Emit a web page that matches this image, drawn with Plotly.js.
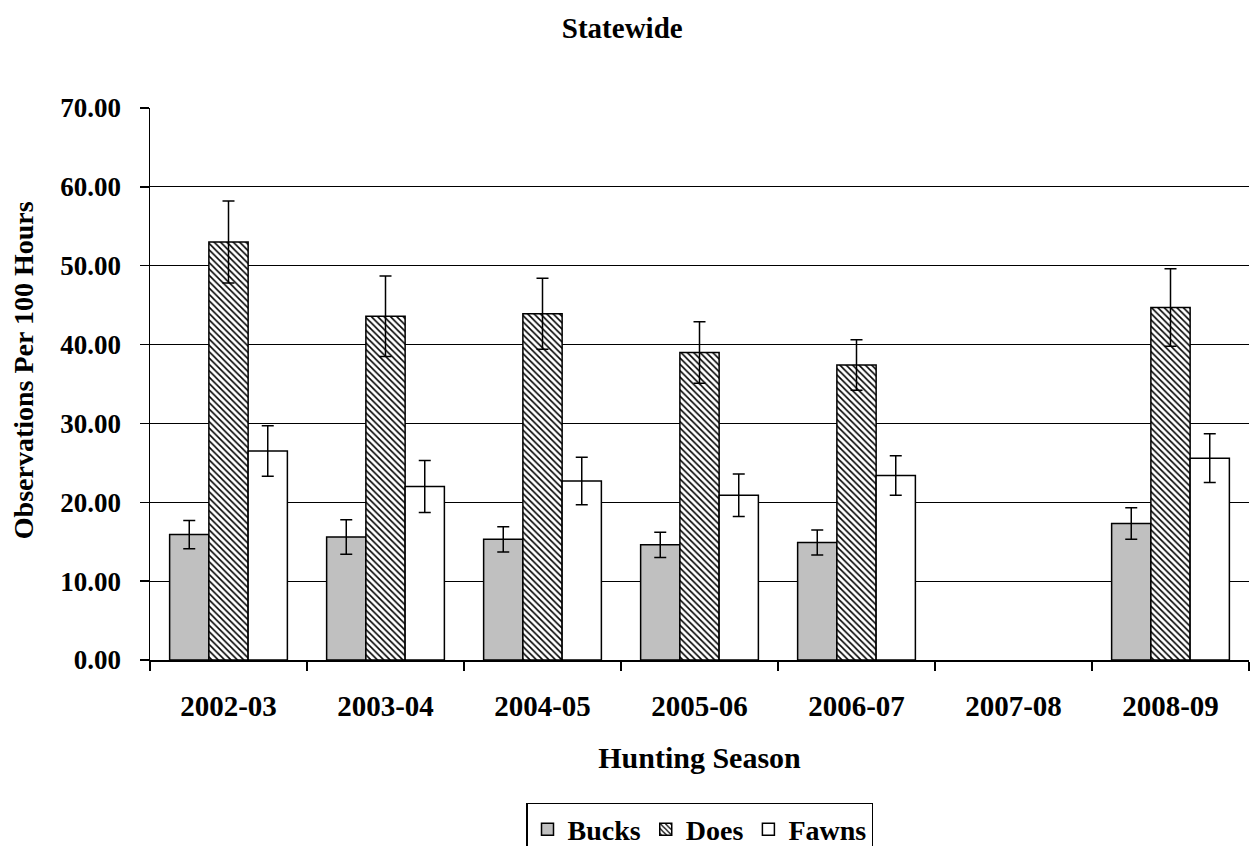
<!DOCTYPE html>
<html>
<head>
<meta charset="utf-8">
<script src="https://cdn.plot.ly/plotly-3.0.1.min.js"></script>
<style>html,body{margin:0;padding:0;background:#fff;}#chart{width:1252px;height:846px;}</style>
</head>
<body>
<div id="chart"></div>
<script>
const seasons = ["2002-03","2003-04","2004-05","2005-06","2006-07","2007-08","2008-09"];
const bucks = [15.9, 15.6, 15.3, 14.6, 14.9, null, 17.3];
const bucksErr = [1.8, 2.2, 1.6, 1.6, 1.6, null, 2.0];
const does = [53.0, 43.6, 43.9, 39.0, 37.4, null, 44.7];
const doesErr = [5.2, 5.1, 4.5, 3.9, 3.2, null, 4.9];
const fawns = [26.5, 22.0, 22.7, 20.9, 23.4, null, 25.6];
const fawnsErr = [3.2, 3.3, 3.0, 2.7, 2.5, null, 3.1];

const FONT = "Liberation Serif, Times New Roman, serif";
const errStyle = (arr) => ({type:"data", array: arr, visible:true, color:"#000", thickness:1.5, width:6});

const traces = [
  {type:"bar", name:"Bucks", x:seasons, y:bucks, error_y: errStyle(bucksErr),
   marker:{color:"#c0c0c0", line:{color:"#000", width:1.5}}},
  {type:"bar", name:"Does", x:seasons, y:does, error_y: errStyle(doesErr),
   marker:{color:"#ffffff", line:{color:"#000", width:1.5},
     pattern:{shape:"\\", fgcolor:"#000", bgcolor:"#fff", size:4.5, solidity:0.35}}},
  {type:"bar", name:"Fawns", x:seasons, y:fawns, error_y: errStyle(fawnsErr),
   marker:{color:"#ffffff", line:{color:"#000", width:1.5}}}
];

const layout = {
  width:1252, height:846,
  paper_bgcolor:"#fff", plot_bgcolor:"#fff",
  margin:{l:150, r:3, t:108, b:186, autoexpand:false},
  barmode:"group", bargap:0.25, bargroupgap:0,
  font:{family:FONT, color:"#000", size:26, weight:"bold"},
  title:{text:"Statewide", x:0.497, xanchor:"center", y:0.967, yanchor:"middle",
         font:{family:FONT, size:29, weight:"bold", color:"#000"}},
  xaxis:{
    type:"category", tickson:"boundaries", ticks:"outside", ticklen:9, tickcolor:"#000", tickwidth:1.5,
    showline:true, linecolor:"#000", linewidth:1.5, showgrid:false,
    tickfont:{family:FONT, size:29, weight:"bold", color:"#000"},
    ticklabelstandoff:20,
    title:{text:"Hunting Season", standoff:25, font:{family:FONT, size:30, weight:"bold", color:"#000"}},
    automargin:false, fixedrange:true
  },
  yaxis:{
    range:[0,70], dtick:10, tickformat:".2f",
    ticks:"outside", ticklen:9, tickcolor:"#000", tickwidth:1.5,
    showline:true, linecolor:"#000", linewidth:1.5,
    showgrid:true, gridcolor:"#000", gridwidth:1.2, zeroline:false,
    tickfont:{family:FONT, size:27, weight:"bold", color:"#000"},
    ticklabelstandoff:13,
    automargin:false, fixedrange:true
  },
  annotations:[{
    text:"Observations Per 100 Hours", textangle:-90, showarrow:false,
    xref:"paper", yref:"paper", x:-0.1156, y:0.525, xanchor:"center", yanchor:"middle",
    font:{family:FONT, size:28, weight:"bold", color:"#000"}
  }],
  showlegend:true,
  legend:{orientation:"h", x:0.5, xanchor:"center", y:-0.259, yanchor:"top",
    bordercolor:"#000", borderwidth:1.5, bgcolor:"#fff",
    font:{family:FONT, size:28, weight:"bold", color:"#000"},
    itemwidth:30, traceorder:"normal"}
};

Plotly.newPlot("chart", traces, layout, {displayModeBar:false, staticPlot:true});
</script>
</body>
</html>
